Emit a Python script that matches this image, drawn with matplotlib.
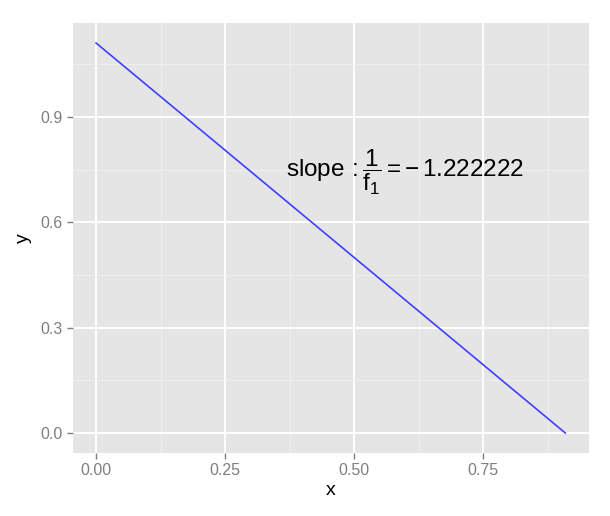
import matplotlib
matplotlib.use("Agg")
import matplotlib.pyplot as plt
from matplotlib.ticker import MultipleLocator

# data: line between the two intercepts
x = [0.0, 0.9090909]
y = [1.1111111, 0.0]
slope_label = r"$\mathrm{slope}\,:\dfrac{1}{\mathrm{f}_1}=-\,1.222222$"
xticks = [0.0, 0.25, 0.5, 0.75]
xtick_labels = ["0.00", "0.25", "0.50", "0.75"]
yticks = [0.0, 0.3, 0.6, 0.9]
ytick_labels = ["0.0", "0.3", "0.6", "0.9"]

plt.rcParams["font.family"] = ["Liberation Sans", "DejaVu Sans"]
plt.rcParams["mathtext.fontset"] = "custom"
plt.rcParams["mathtext.rm"] = "Liberation Sans"
plt.rcParams["mathtext.it"] = "Liberation Sans:italic"

fig = plt.figure(figsize=(6.1, 5.16), dpi=100)
ax = fig.add_axes([0.119, 0.123, 0.8466, 0.8315])
ax.set_facecolor("#e5e5e5")

ax.plot(x, y, color="#3f3fff", lw=1.2, zorder=3)

ax.set_xlim(-0.0455, 0.955)
ax.set_ylim(-0.0556, 1.1667)
ax.set_xticks(xticks)
ax.set_xticklabels(xtick_labels)
ax.set_yticks(yticks)
ax.set_yticklabels(ytick_labels)
ax.xaxis.set_minor_locator(MultipleLocator(0.125))
ax.yaxis.set_minor_locator(MultipleLocator(0.15))

ax.grid(which="major", color="white", lw=1.4)
ax.grid(which="minor", color="#f2f2f2", lw=0.6)
ax.set_axisbelow(True)
for s in ax.spines.values():
    s.set_visible(False)

ax.tick_params(which="major", length=4, width=1, color="#7f7f7f",
               labelcolor="#7f7f7f", labelsize=11.5)
ax.tick_params(which="minor", length=0)

ax.set_xlabel("x", fontsize=14, labelpad=3)
ax.set_ylabel("y", fontsize=14, labelpad=6)

ax.text(0.599, 0.744, slope_label, fontsize=17.5, ha="center", va="center")

fig.savefig("out.png", dpi=100)
